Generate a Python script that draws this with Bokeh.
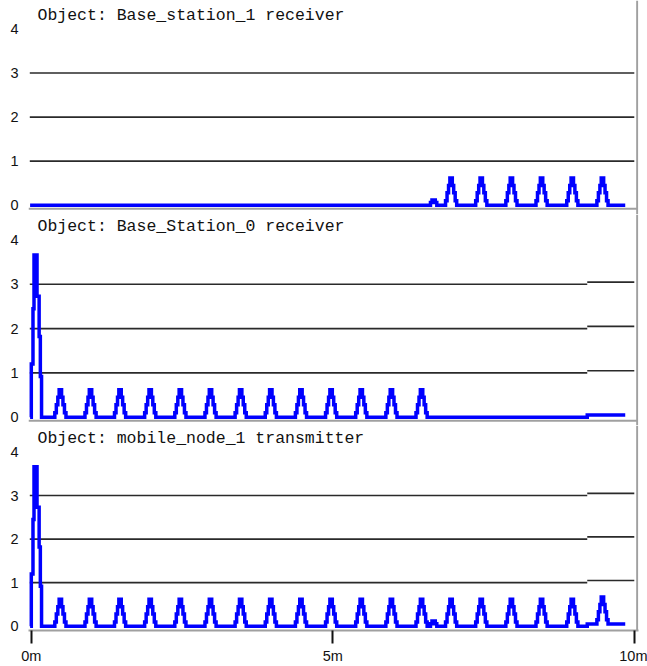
from bokeh.plotting import figure
from bokeh.layouts import column
from bokeh.models import Range1d, FixedTicker, Span, Label
from bokeh.embed import file_html
from bokeh.resources import INLINE

# ---------------- data (time in minutes) ----------------
titles = ["Object: Base_station_1 receiver",
          "Object: Base_Station_0 receiver",
          "Object: mobile_node_1 transmitter"]
y_ticks = [0, 1, 2, 3, 4]
grid_levels = [1, 2, 3]
x_ticks = [0, 5, 10]
x_tick_labels = ["0m", "5m", "10m"]

# initial burst (panels 2 and 3)
spike_t = [0.0, 0.028, 0.045, 0.095, 0.13, 0.15, 0.17]
spike_v = [1.2, 2.45, 3.66, 2.73, 1.82, 0.92, 0.0]

# shape of one periodic pulse: time offsets from its peak and levels
pulse_dt = [-0.09, -0.065, -0.04, -0.018, 0.022, 0.045, 0.07, 0.095]
pulse_lv = [0.10, 0.28, 0.45, 0.62, 0.45, 0.28, 0.10, 0.0]

# small bump near 6.7 min (panels 1 and 3)
bump_t = [6.62, 6.645, 6.70, 6.725]
bump_v = [0.06, 0.12, 0.06, 0.0]

peaks_bs0 = [0.48, 0.98, 1.47, 1.97, 2.47, 2.97, 3.47, 3.97, 4.47,
             4.97, 5.47, 5.97, 6.47]
peaks_bs1 = [6.96, 7.46, 7.96, 8.46, 8.97, 9.47]
peaks_mn1 = peaks_bs0 + peaks_bs1

raise_t = 9.22     # level shift seen at the right end of panels 2 and 3
raise_v = 0.05
trace_t0 = -0.02
trace_t1 = 9.85
grid_t0 = -0.025
grid_t1 = 10.0

# ---------------- helpers ----------------
def step_value(ts, vs, t):
    val = 0.0
    for ti, vi in zip(ts, vs):
        if t >= ti:
            val = vi
    return val


def build(spike, peaks, bump, raised):
    comps = []
    if spike:
        comps.append((spike_t, spike_v))
    for pk in peaks:
        comps.append(([pk + d for d in pulse_dt], pulse_lv))
    if bump:
        comps.append((bump_t, bump_v))
    if raised:
        comps.append(([raise_t], [raise_v]))
    times = sorted({trace_t0, trace_t1, *[t for ts, _ in comps for t in ts]})
    times = [t for t in times if trace_t0 <= t <= trace_t1]
    ys = [sum(step_value(ts, vs, t) for ts, vs in comps) for t in times]
    ys[-1] = ys[-2]
    return times, ys


xr = Range1d(-0.0464, 10.070)
GRAY = "#a0a0a0"
BLUE = "#0000ff"
GRID = "#2a2a2a"

panels = [
    dict(title=titles[0], series=build(False, peaks_bs1, True, False),
         yr=(-0.2111, 4.647), height=214, split=False, axis=False),
    dict(title=titles[1], series=build(True, peaks_bs0, False, True),
         yr=(-0.1874, 4.576), height=211, split=True, axis=False),
    dict(title=titles[2], series=build(True, peaks_mn1, True, True),
         yr=(-0.0977, 4.607), height=241, split=True, axis=True),
]

figs = []
for cfg in panels:
    p = figure(width=647, height=cfg["height"], x_range=xr,
               y_range=Range1d(*cfg["yr"]),
               output_backend="svg", toolbar_location=None,
               x_axis_location="below" if cfg["axis"] else None,
               min_border_left=28, min_border_right=9, min_border_top=0,
               min_border_bottom=34 if cfg["axis"] else 0)
    p.xgrid.visible = False
    p.ygrid.visible = False
    p.outline_line_color = None
    p.background_fill_color = "white"
    p.border_fill_color = "white"

    # y axis: labels only
    ya = p.yaxis[0]
    ya.ticker = FixedTicker(ticks=y_ticks)
    ya.axis_line_color = None
    ya.major_tick_line_color = None
    ya.minor_tick_line_color = None
    ya.major_tick_in = 0
    ya.major_tick_out = 0
    ya.major_label_standoff = 10
    ya.major_label_text_font = "Liberation Sans"
    ya.major_label_text_font_size = "14.5px"
    ya.major_label_text_color = "#111111"

    if cfg["axis"]:
        xa = p.xaxis[0]
        xa.ticker = FixedTicker(ticks=x_ticks)
        xa.major_label_overrides = {t: l for t, l in zip(x_ticks, x_tick_labels)}
        xa.axis_line_color = GRAY
        xa.axis_line_width = 2
        xa.major_tick_line_color = "#111111"
        xa.major_tick_line_width = 2
        xa.major_tick_in = 0
        xa.major_tick_out = 13
        xa.minor_tick_line_color = None
        xa.major_label_standoff = 4
        xa.major_label_text_font = "Liberation Sans"
        xa.major_label_text_font_size = "14.5px"
        xa.major_label_text_color = "#111111"
    else:
        p.segment(x0=[xr.start], y0=[-0.08], x1=[10.048], y1=[-0.08],
                  line_color=GRAY, line_width=2)

    # horizontal reference lines
    if cfg["split"]:
        p.segment(x0=[grid_t0] * 3, y0=grid_levels, x1=[raise_t] * 3,
                  y1=grid_levels, line_color=GRID, line_width=1.6)
        lv2 = [g + raise_v for g in grid_levels]
        p.segment(x0=[raise_t] * 3, y0=lv2, x1=[grid_t1] * 3, y1=lv2,
                  line_color=GRID, line_width=1.6)
    else:
        p.segment(x0=[grid_t0] * 3, y0=grid_levels, x1=[grid_t1] * 3,
                  y1=grid_levels, line_color=GRID, line_width=1.6)

    # right border
    p.add_layout(Span(location=10.048, dimension="height",
                      line_color=GRAY, line_width=2))

    ts, ys = cfg["series"]
    p.step(ts, ys, mode="after", line_color=BLUE, line_width=3.5,
           line_join="miter")

    p.add_layout(Label(x=0.103, y=4.31, text=cfg["title"],
                       text_font="Liberation Mono", text_font_size="16.5px",
                       text_baseline="middle", text_align="left",
                       text_color="#111111"))
    figs.append(p)

layout = column(*figs, spacing=0)
open("out.html", "w").write(file_html(layout, INLINE))
